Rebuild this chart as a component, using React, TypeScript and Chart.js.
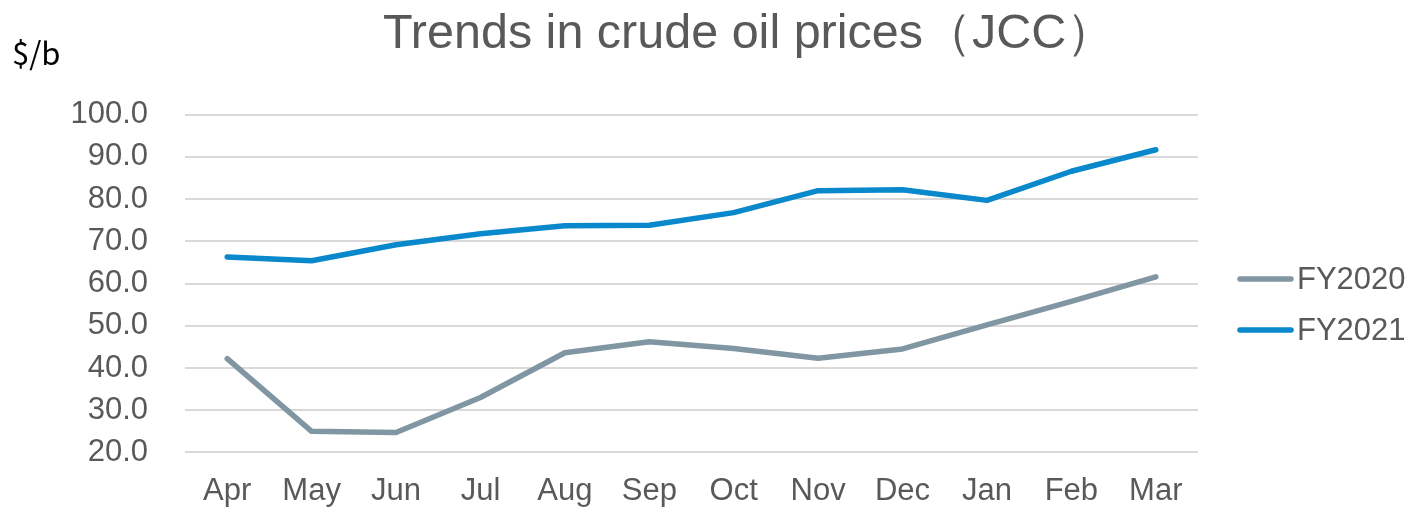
import React, { useEffect, useRef } from "react";
import { Chart, registerables } from "chart.js";

Chart.register(...registerables);

const titleText = "Trends in crude oil prices（JCC）";
const unitLabel = "$/b";
const months = ["Apr", "May", "Jun", "Jul", "Aug", "Sep", "Oct", "Nov", "Dec", "Jan", "Feb", "Mar"];
const fy2020 = [42.2, 25.0, 24.7, 33.0, 43.6, 46.2, 44.6, 42.3, 44.5, 50.2, 55.8, 61.6];
const fy2021 = [66.3, 65.4, 69.2, 71.8, 73.7, 73.8, 76.8, 82.0, 82.2, 79.7, 86.6, 91.7];
const seriesNames = ["FY2020", "FY2021"];
const seriesColors = ["#8096A3", "#0A88CC"];
const yMin = 20;
const yMax = 100;
const yStep = 10;

const TEXT_COLOR = "#595959";
const FONT = "'Liberation Sans', Arial, sans-serif";

const decorPlugin = {
  id: "decor",
  afterDraw(chart: any) {
    const ctx = chart.ctx;
    ctx.save();
    // title
    ctx.fillStyle = TEXT_COLOR;
    ctx.font = `48.5px ${FONT}`;
    ctx.textAlign = "left";
    ctx.textBaseline = "alphabetic";
    ctx.fillText(titleText, 383, 48);
    // unit
    ctx.fillStyle = "#000000";
    ctx.font = `31px 'Noto Sans CJK JP', 'Noto Sans', sans-serif`;
    ctx.fillText(unitLabel, 12, 65);
    // legend
    const ys = [279, 330];
    chart.data.datasets.forEach((ds: any, i: number) => {
      ctx.strokeStyle = ds.borderColor;
      ctx.lineWidth = 5.5;
      ctx.lineCap = "round";
      ctx.beginPath();
      ctx.moveTo(1240, ys[i]);
      ctx.lineTo(1291, ys[i]);
      ctx.stroke();
      ctx.fillStyle = TEXT_COLOR;
      ctx.font = `31px ${FONT}`;
      ctx.textBaseline = "middle";
      ctx.fillText(ds.label, 1297, ys[i] + 1);
    });
    ctx.restore();
  },
};

export default function App() {
  const ref = useRef<HTMLCanvasElement>(null);
  useEffect(() => {
    document.body.style.margin = "0";
    const canvas = ref.current!;
    const chart = new Chart(canvas, {
      type: "line",
      data: {
        labels: months,
        datasets: [
          { label: seriesNames[0], data: fy2020, borderColor: seriesColors[0], backgroundColor: seriesColors[0] },
          { label: seriesNames[1], data: fy2021, borderColor: seriesColors[1], backgroundColor: seriesColors[1] },
        ].map((d) => ({
          ...d,
          borderWidth: 5.5,
          borderCapStyle: "round",
          borderJoinStyle: "round",
          pointRadius: 0,
          pointHoverRadius: 0,
          tension: 0,
          fill: false,
        })) as any,
      },
      options: {
        responsive: false,
        animation: false,
        events: [],
        layout: { padding: { left: 0, right: 218, top: 114.7, bottom: 0 } },
        plugins: {
          legend: { display: false },
          title: { display: false },
          tooltip: { enabled: false },
        },
        scales: {
          x: {
            offset: true,
            grid: { display: false },
            border: { display: false },
            ticks: {
              color: TEXT_COLOR,
              font: { family: FONT, size: 31 },
              padding: 12,
              maxRotation: 0,
              autoSkip: false,
            },
            afterFit: (s: any) => {
              s.height = 508 - 452.7;
            },
          },
          y: {
            min: yMin,
            max: yMax,
            grid: { color: "#D9D9D9", lineWidth: 2, drawTicks: false },
            border: { display: false },
            ticks: {
              stepSize: yStep,
              color: TEXT_COLOR,
              font: { family: FONT, size: 31 },
              padding: 37,
              callback: (v: any) => Number(v).toFixed(1),
            },
            afterFit: (s: any) => {
              s.width = 185;
            },
          },
        },
      },
      plugins: [decorPlugin],
    });
    return () => chart.destroy();
  }, []);
  return <canvas ref={ref} width={1416} height={508} style={{ display: "block" }} />;
}
